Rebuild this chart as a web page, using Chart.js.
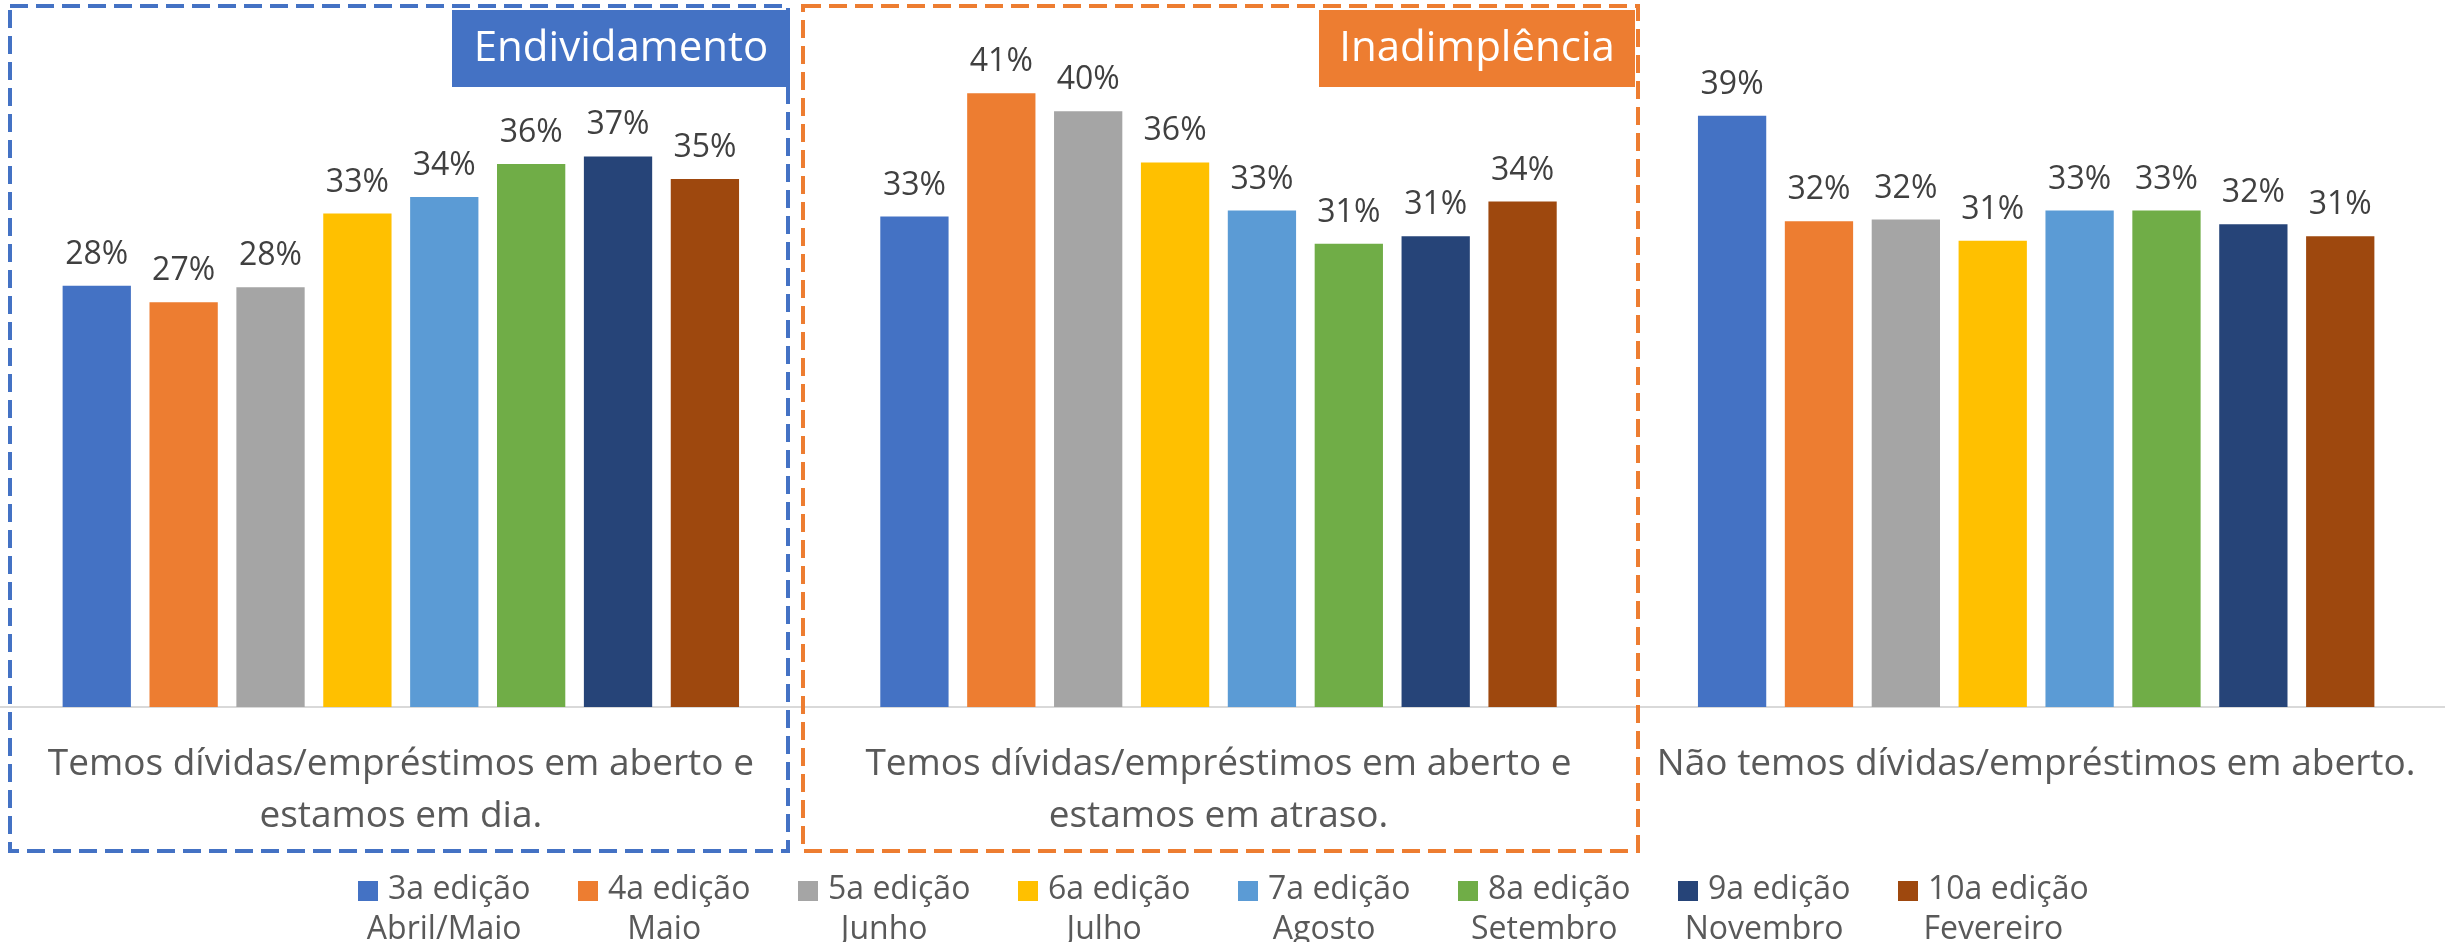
<!DOCTYPE html>
<html>
<head>
<meta charset="utf-8">
<script src="https://cdn.jsdelivr.net/npm/chart.js@4.4.1/dist/chart.umd.min.js"></script>
<style>
  html, body { margin: 0; padding: 0; background: #fff; }
  body { width: 2445px; height: 942px; overflow: hidden; position: relative; font-family: "Open Sans", sans-serif; }
  #wrap { position: absolute; left: -8px; top: 0; width: 2453px; height: 942px; }
  .item { position: absolute; top: 867px; color: #595959; font-size: 32px; line-height: 40px; white-space: nowrap; }
  .item .sq { display: inline-block; width: 20px; height: 20px; margin-right: 10px; vertical-align: -2px; }
  .item .l2 { text-align: center; }
</style>
</head>
<body>
<div id="wrap"><canvas id="chart"></canvas></div>
<div id="legend"></div>
<script>
// categories (x axis), one line per array entry
const categories = [
    ["Temos dívidas/empréstimos em aberto e", "estamos em dia."],
    ["Temos dívidas/empréstimos em aberto e", "estamos em atraso."],
    ["Não temos dívidas/empréstimos em aberto."],
];

// survey editions (legend)
const editions = ["3a edição", "4a edição", "5a edição", "6a edição", "7a edição", "8a edição", "9a edição", "10a edição"];
const months = ["Abril/Maio", "Maio", "Junho", "Julho", "Agosto", "Setembro", "Novembro", "Fevereiro"];

// values in %
const ed3 = [28.0, 32.6, 39.3];
const ed4 = [26.9, 40.8, 32.3];
const ed5 = [27.9, 39.6, 32.4];
const ed6 = [32.8, 36.2, 31.0];
const ed7 = [33.9, 33.0, 33.0];
const ed8 = [36.1, 30.8, 33.0];
const ed9 = [36.6, 31.3, 32.1];
const ed10 = [35.1, 33.6, 31.3];

const colors = ["#4472C4", "#ED7D31", "#A5A5A5", "#FFC000", "#5B9BD5", "#70AD47", "#264478", "#9E480E"];
const series = [ed3, ed4, ed5, ed6, ed7, ed8, ed9, ed10];

// canvas is shifted 8px to the left
const OFF = 8;

const valueLabels = {
    id: "valueLabels",
    afterDatasetsDraw(chart) {
        const ctx = chart.ctx;
        ctx.save();
        ctx.font = "32px 'Open Sans'";
        ctx.fillStyle = "#404040";
        ctx.textAlign = "center";
        ctx.textBaseline = "alphabetic";
        chart.data.datasets.forEach((ds, i) => {
            chart.getDatasetMeta(i).data.forEach((bar, j) => {
                ctx.fillText(Math.round(ds.data[j]) + "%", bar.x, bar.y - 22);
            });
        });
        ctx.restore();
    },
};

// dashed frames and the two title tags
const frames = {
    id: "frames",
    afterDraw(chart) {
        const ctx = chart.ctx;
        ctx.save();

        function tag(x1, x2, color, text) {
            ctx.fillStyle = color;
            ctx.fillRect(x1 + OFF, 10, x2 - x1, 77);
            ctx.fillStyle = "#fff";
            ctx.font = "42px 'Open Sans'";
            ctx.textAlign = "center";
            ctx.textBaseline = "middle";
            ctx.fillText(text, (x1 + x2) / 2 + OFF, 49);
        }

        function frame(x1, x2, color) {
            ctx.strokeStyle = color;
            ctx.lineWidth = 4;
            ctx.setLineDash([18, 8]);
            ctx.strokeRect(x1 + OFF, 6, x2 - x1, 845);
        }

        tag(452, 790, "#4472C4", "Endividamento");
        tag(1319, 1635, "#ED7D31", "Inadimplência");
        frame(10, 788, "#4472C4");
        frame(803, 1638, "#ED7D31");
        ctx.restore();
    },
};

new Chart(document.getElementById("chart").getContext("2d"), {
    type: "bar",

    data: {
        labels: categories,

        datasets: series.map((values, i) => ({
            label: editions[i] + " " + months[i],
            data: values,
            backgroundColor: colors[i],
            barPercentage: 0.786,
            categoryPercentage: 0.85,
        })),
    },

    options: {
        responsive: true,
        maintainAspectRatio: false,
        animation: false,

        layout: {
            padding: 0,
        },

        scales: {
            x: {
                grid: {
                    display: false,
                },
                border: {
                    display: true,
                    color: "#D9D9D9",
                    width: 2,
                },
                ticks: {
                    autoSkip: false,
                    maxRotation: 0,
                    padding: 23,
                    color: "#595959",
                    font: {
                        family: "Open Sans",
                        size: 37,
                        lineHeight: 1.41,
                    },
                },
                afterFit(scale) {
                    scale.height = 235;
                },
            },
            y: {
                display: false,
                min: 0,
                max: 47,
            },
        },

        plugins: {
            legend: {
                display: false,
            },
            tooltip: {
                enabled: false,
            },
        },
    },

    plugins: [valueLabels, frames],
});

// legend below the chart
const legend = document.getElementById("legend");
editions.forEach((name, i) => {
    const item = document.createElement("div");
    item.className = "item";
    item.style.left = 358 + i * 220 + "px";
    item.innerHTML =
        '<div><span class="sq" style="background:' + colors[i] + '"></span>' + name + "</div>" +
        '<div class="l2">' + months[i] + "</div>";
    legend.appendChild(item);
});
</script>
</body>
</html>
